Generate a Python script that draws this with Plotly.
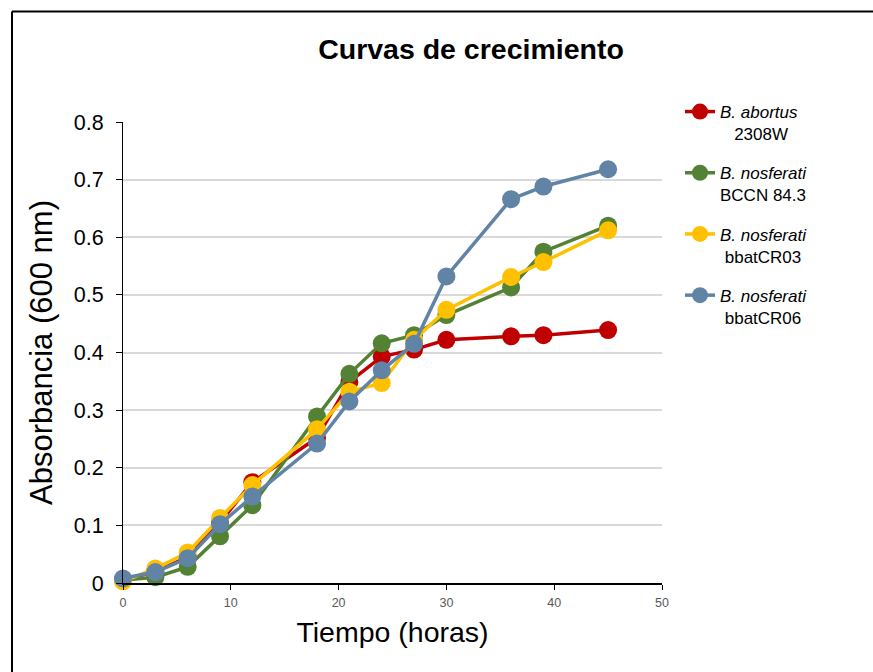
import plotly.graph_objects as go

# ---- data ----
tiempo = [0, 3, 6, 9, 12, 18, 21, 24, 27, 30, 36, 39, 45]
abortus_2308W = [0.005, 0.020, 0.045, 0.105, 0.175, 0.252, 0.349, 0.393, 0.405, 0.422, 0.428, 0.430, 0.439]
nosferati_BCCN = [0.005, 0.010, 0.028, 0.081, 0.135, 0.289, 0.363, 0.416, 0.430, 0.465, 0.513, 0.575, 0.620]
nosferati_CR03 = [0.003, 0.025, 0.053, 0.113, 0.170, 0.267, 0.332, 0.347, 0.422, 0.474, 0.531, 0.557, 0.612]
nosferati_CR06 = [0.008, 0.019, 0.043, 0.102, 0.150, 0.242, 0.315, 0.369, 0.415, 0.532, 0.666, 0.688, 0.718]

series_names = [
    "<i>B. abortus</i><br>\u00a0\u00a0\u00a02308W",
    "<i>B. nosferati</i><br>BCCN 84.3",
    "<i>B. nosferati</i><br>\u00a0bbatCR03",
    "<i>B. nosferati</i><br>\u00a0bbatCR06",
]
series_values = [abortus_2308W, nosferati_BCCN, nosferati_CR03, nosferati_CR06]
colors = ["#C00000", "#548235", "#FFC000", "#6083A6"]

FONT = "Arial, 'Liberation Sans', sans-serif"

fig = go.Figure()
for i, (name, vals, col) in enumerate(zip(series_names, series_values, colors)):
    fig.add_trace(go.Scatter(
        x=tiempo, y=vals, name=name, mode="lines+markers",
        line=dict(color=col, width=3.5),
        marker=dict(color=col, size=18),
        cliponaxis=False,
        legendgroup=f"g{i}",
    ))

# plot area pixel geometry
W, H = 873, 672
L, R, T, B = 123, 662, 122, 583

def px(xp):
    return (xp - L) / (R - L)

def py(yp):
    return (B - yp) / (B - T)

fig.update_layout(
    width=W, height=H,
    margin=dict(l=L, r=W - R, t=T, b=H - B, pad=0),
    paper_bgcolor="white", plot_bgcolor="white",
    font=dict(family=FONT, color="black"),
    title=dict(text="<b>Curvas de crecimiento</b>", font=dict(size=28.5, color="black"),
               xref="paper", x=px(471), xanchor="center",
               yref="container", y=1 - 49 / H, yanchor="middle"),
    legend=dict(x=px(680), xanchor="left", y=py(94), yanchor="top",
                font=dict(size=17, color="black"), valign="top",
                tracegroupgap=14, traceorder="grouped",
                bgcolor="rgba(0,0,0,0)"),
    showlegend=True,
)
fig.update_xaxes(
    range=[0, 50], tickvals=[0, 10, 20, 30, 40, 50],
    showgrid=False, zeroline=False,
    showline=True, linecolor="black", linewidth=1.5,
    ticks="outside", ticklen=5, tickcolor="black", tickwidth=1,
    ticklabelstandoff=2,
    tickfont=dict(size=12.5, color="#595959"),
    title=dict(text="Tiempo (horas)", font=dict(size=28.5, color="black"), standoff=13),
)
fig.update_yaxes(
    range=[0, 0.8], tickvals=[0, 0.1, 0.2, 0.3, 0.4, 0.5, 0.6, 0.7, 0.8],
    ticktext=["0", "0.1", "0.2", "0.3", "0.4", "0.5", "0.6", "0.7", "0.8"],
    showgrid=True, gridcolor="#D9D9D9", gridwidth=2,
    zeroline=False,
    showline=True, linecolor="black", linewidth=1,
    ticks="outside", ticklen=6, tickcolor="black", tickwidth=1,
    ticklabelstandoff=8,
    tickfont=dict(size=21.5, color="black"),
    title=dict(text="Absorbancia (600 nm)", font=dict(size=31, color="black"), standoff=11),
)

# outer frame (left and top edges)
fig.add_shape(type="line", xref="paper", yref="paper",
              x0=px(12), y0=py(H + 5), x1=px(12), y1=py(11.5),
              line=dict(color="black", width=2))
fig.add_shape(type="line", xref="paper", yref="paper",
              x0=px(12), y0=py(11.5), x1=px(W + 5), y1=py(11.5),
              line=dict(color="black", width=2))

fig.write_html("out.html")
